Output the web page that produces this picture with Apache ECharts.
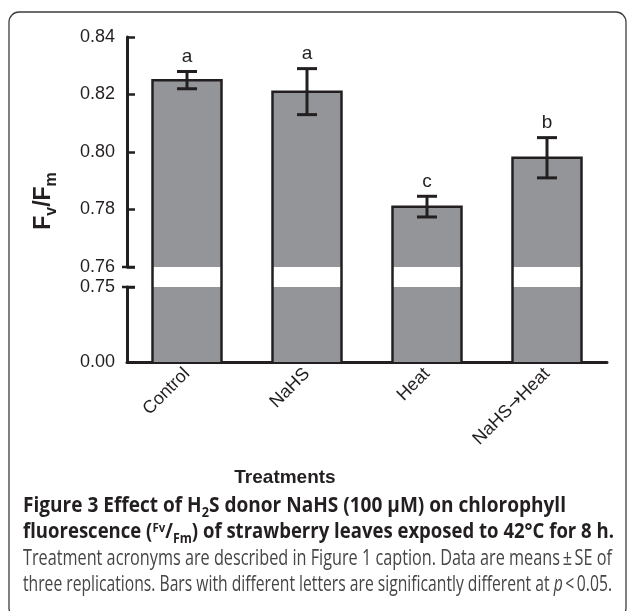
<!DOCTYPE html>
<html><head><meta charset="utf-8">
<script src="https://cdn.jsdelivr.net/npm/echarts@6/dist/echarts.min.js"></script>
<style>html,body{margin:0;padding:0;background:#fff}#c{width:629px;height:611px}</style>
</head><body><div id="c"></div>
<script>
// ---- data ----
const categories = ['Control', 'NaHS', 'Heat', 'NaHS\u2192Heat'];
const means = [0.825, 0.821, 0.781, 0.798];
const errors = [0.003, 0.008, 0.0036, 0.007];
const letters = ['a', 'a', 'c', 'b'];
const upperTicks = [0.76, 0.78, 0.80, 0.82, 0.84];
const lowerTicks = [0.00, 0.75];
const upperMin = 0.76, upperMax = 0.84, lowerMax = 0.75;

// ---- texts ----
const xName = 'Treatments';
const captionLines = [
  [['Figure 3 Effect of H', 'B'], ['2', 'Bsub'], ['S donor NaHS (100 \u03bcM) on chlorophyll', 'B']],
  [['fluorescence (', 'B'], ['Fv', 'Bsup'], ['/', 'B'], ['Fm', 'Bsub'], [') of strawberry leaves exposed to 42\u00b0C for 8 h.', 'B']],
  [['Treatment acronyms are described in Figure 1 caption. Data are means\u2009\u00b1\u2009SE of', 'R']],
  [['three replications. Bars with different letters are significantly different at ', 'R'], ['p', 'RI'], ['\u2009<\u20090.05.', 'R']]
];
const captionLayout = [ {x: 23, base: 514, right: 566}, {x: 23, base: 540, right: 614}, {x: 23, base: 567, right: 612}, {x: 23, base: 593, right: 612} ];

// ---- styles ----
const INK = '#231f20', GRAY = '#939598';
const AXIS_FONT = '"Liberation Sans", Arial, Helvetica, sans-serif';
const CAP_FONT = '"Open Sans", "Noto Sans", sans-serif';
const G_LEFT = 127, G_W = 480, UP_TOP = 37, UP_H = 230, GAP = 20, LO_H = 75;
const BAR_RATIO = 0.575, CAP_W = 20;

const segStyles = {
  B:    {weight: 'bold', style: 'normal', size: 21, rise: 0, family: CAP_FONT, fill: '#231f20'},
  Bsub: {weight: 'bold', style: 'normal', size: 14, rise: -4, family: CAP_FONT, fill: '#231f20'},
  Bsup: {weight: 'bold', style: 'normal', size: 13, rise: 7, family: CAP_FONT, fill: '#231f20'},
  R:    {weight: 'normal', style: 'normal', size: 21, rise: 0, family: CAP_FONT, fill: '#454545'},
  RI:   {weight: 'normal', style: 'italic', size: 21, rise: 0, family: CAP_FONT, fill: '#454545'},
  YN:   {weight: 'bold', style: 'normal', size: 23, rise: 0, family: AXIS_FONT, fill: INK},
  YNsub:{weight: 'bold', style: 'normal', size: 16, rise: -5, family: AXIS_FONT, fill: INK}
};

const mctx = document.createElement('canvas').getContext('2d');
function measure(text, st) {
  mctx.font = st.style + ' ' + st.weight + ' ' + st.size + 'px ' + st.family;
  return mctx.measureText(text).width;
}
// lay segments along a baseline; rot in radians (CCW)
function layoutSegs(segs, ox, oy, rot, k) {
  const dir = [Math.cos(rot), -Math.sin(rot)];
  const perp = [Math.sin(rot), Math.cos(rot)];
  let a = 0; const out = [];
  segs.forEach(([t, sn]) => {
    const st = segStyles[sn];
    const p = -0.36 * st.size - st.rise;
    out.push({
      type: 'text', silent: true,
      x: ox + a * k * dir[0] + p * perp[0],
      y: oy + a * k * dir[1] + p * perp[1],
      rotation: rot, scaleX: k,
      style: {text: t, fontSize: st.size, fontWeight: st.weight, fontStyle: st.style, fontFamily: st.family,
              fill: st.fill, align: 'left', verticalAlign: 'middle'}
    });
    a += measure(t, st);
  });
  return out;
}
function segsWidth(segs) { return segs.reduce((s, [t, sn]) => s + measure(t, segStyles[sn]), 0); }

// ---- render functions ----
function renderUpper(params, api) {
  const i = api.value(0), v = api.value(1);
  const top = api.coord([i, v]);
  const base = api.coord([i, upperMin]);
  const bw = api.size([1, 0])[0] * BAR_RATIO;
  const x0 = top[0] - bw / 2, x1 = top[0] + bw / 2;
  return {type: 'group', children: [
    {type: 'rect', shape: {x: x0, y: top[1], width: bw, height: base[1] - top[1]}, style: {fill: GRAY}},
    {type: 'polyline', shape: {points: [[x0, base[1] + GAP], [x0, top[1]], [x1, top[1]], [x1, base[1] + GAP]]},
     style: {stroke: INK, lineWidth: 2.5, fill: 'none', lineJoin: 'miter'}}
  ]};
}
function renderLower(params, api) {
  const i = api.value(0), v = Math.min(api.value(1), lowerMax);
  const top = api.coord([i, v]);
  const base = api.coord([i, 0]);
  const bw = api.size([1, 0])[0] * BAR_RATIO;
  const x0 = top[0] - bw / 2, x1 = top[0] + bw / 2;
  return {type: 'group', children: [
    {type: 'rect', shape: {x: x0, y: top[1], width: bw, height: base[1] - top[1]}, style: {fill: GRAY}},
    {type: 'line', shape: {x1: x0, y1: top[1], x2: x0, y2: base[1]}, style: {stroke: INK, lineWidth: 2.5}},
    {type: 'line', shape: {x1: x1, y1: top[1], x2: x1, y2: base[1]}, style: {stroke: INK, lineWidth: 2.5}}
  ]};
}
function renderErr(params, api) {
  const i = api.value(0), v = api.value(1), e = api.value(2);
  const hi = api.coord([i, v + e]), lo = api.coord([i, v - e]);
  const c = CAP_W / 2;
  return {type: 'group', children: [
    {type: 'line', shape: {x1: hi[0], y1: hi[1], x2: lo[0], y2: lo[1]}, style: {stroke: INK, lineWidth: 3}},
    {type: 'line', shape: {x1: hi[0] - c, y1: hi[1], x2: hi[0] + c, y2: hi[1]}, style: {stroke: INK, lineWidth: 3}},
    {type: 'line', shape: {x1: lo[0] - c, y1: lo[1], x2: lo[0] + c, y2: lo[1]}, style: {stroke: INK, lineWidth: 3}},
    {type: 'text', x: hi[0], y: hi[1] - 5,
     style: {text: letters[params.dataIndex], align: 'center', verticalAlign: 'bottom',
             fontSize: 19, fontFamily: AXIS_FONT, fill: INK}}
  ]};
}

const axisLabelBase = {fontSize: 18, color: INK, fontFamily: AXIS_FONT};
const barData = categories.map((c, i) => [i, means[i]]);
const errData = categories.map((c, i) => [i, means[i], errors[i]]);

function xLabelFmt(v) {
  const parts = String(v).split('\u2192');
  if (parts.length === 1) return '{t|' + v + '}';
  return '{t|' + parts[0] + '}{arr|\u2192}{t|' + parts[1] + '}';
}

const chart = echarts.init(document.getElementById('c'), null, {renderer: 'canvas'});
chart.setOption({
  animation: false,
  grid: [
    {left: G_LEFT, top: UP_TOP, width: G_W, height: UP_H},
    {left: G_LEFT, top: UP_TOP + UP_H + GAP, width: G_W, height: LO_H}
  ],
  xAxis: [
    {type: 'category', gridIndex: 0, data: categories, show: false},
    {type: 'category', gridIndex: 1, data: categories,
     axisLine: {lineStyle: {color: INK, width: 3}}, axisTick: {show: false},
     axisLabel: Object.assign({rotate: 45, margin: 9, interval: 0, formatter: xLabelFmt,
       rich: {t: {fontSize: 18, color: INK, fontFamily: AXIS_FONT},
              arr: {fontSize: 17, color: INK, fontFamily: '"DejaVu Sans", sans-serif'}}}, axisLabelBase)}
  ],
  yAxis: [
    {type: 'value', gridIndex: 0, min: upperMin, max: upperMax, interval: 0.02,
     splitLine: {show: false},
     axisLine: {show: true, lineStyle: {color: INK, width: 3}},
     axisTick: {show: true, inside: true, length: 8, lineStyle: {color: INK, width: 2.5}, customValues: upperTicks},
     axisLabel: Object.assign({customValues: upperTicks, formatter: v => (+v).toFixed(2), margin: 12}, axisLabelBase)},
    {type: 'value', gridIndex: 1, min: 0, max: lowerMax, interval: lowerMax,
     splitLine: {show: false},
     axisLine: {show: true, lineStyle: {color: INK, width: 3}},
     axisTick: {show: true, inside: true, length: 8, lineStyle: {color: INK, width: 2.5}, customValues: lowerTicks},
     axisLabel: Object.assign({customValues: lowerTicks, formatter: v => (+v).toFixed(2), margin: 12}, axisLabelBase)}
  ],
  series: [
    {type: 'custom', xAxisIndex: 0, yAxisIndex: 0, renderItem: renderUpper, data: barData, clip: false, z: 2},
    {type: 'custom', xAxisIndex: 1, yAxisIndex: 1, renderItem: renderLower, data: barData, clip: false, z: 2},
    {type: 'custom', xAxisIndex: 0, yAxisIndex: 0, renderItem: renderErr, data: errData, clip: false, z: 3}
  ]
});

// ---- decorations computed from the axes ----
const yBreakUp = chart.convertToPixel({yAxisIndex: 0}, upperMin);
const yBreakLo = chart.convertToPixel({yAxisIndex: 1}, lowerMax);
const graphics = [];
graphics.push({type: 'rect', silent: true, shape: {x: 9, y: 12, width: 617, height: 606, r: 10},
  style: {fill: 'none', stroke: '#3c3c3c', lineWidth: 1.3}});
[yBreakUp, yBreakLo].forEach(y => graphics.push({type: 'line', silent: true,
  shape: {x1: G_LEFT - 5, y1: y, x2: G_LEFT + 8, y2: y}, style: {stroke: INK, lineWidth: 2.5}}));
graphics.push({type: 'text', silent: true, x: 285, y: 478,
  style: {text: xName, fontSize: 19, fontWeight: 'bold', fontFamily: AXIS_FONT, fill: INK, align: 'center', verticalAlign: 'middle'}});
// y-axis name Fv/Fm (rotated)
const ySegs = [['F', 'YN'], ['v', 'YNsub'], ['/F', 'YN'], ['m', 'YNsub']];
const yW = segsWidth(ySegs);
layoutSegs(ySegs, 52, 201 + yW / 2, Math.PI / 2, 1).forEach(g => graphics.push(g));
// caption
captionLines.forEach((segs, li) => {
  const L = captionLayout[li];
  const k = (L.right - L.x) / segsWidth(segs);
  layoutSegs(segs, L.x, L.base, 0, k).forEach(g => graphics.push(g));
});
chart.setOption({graphic: graphics});
</script></body></html>
